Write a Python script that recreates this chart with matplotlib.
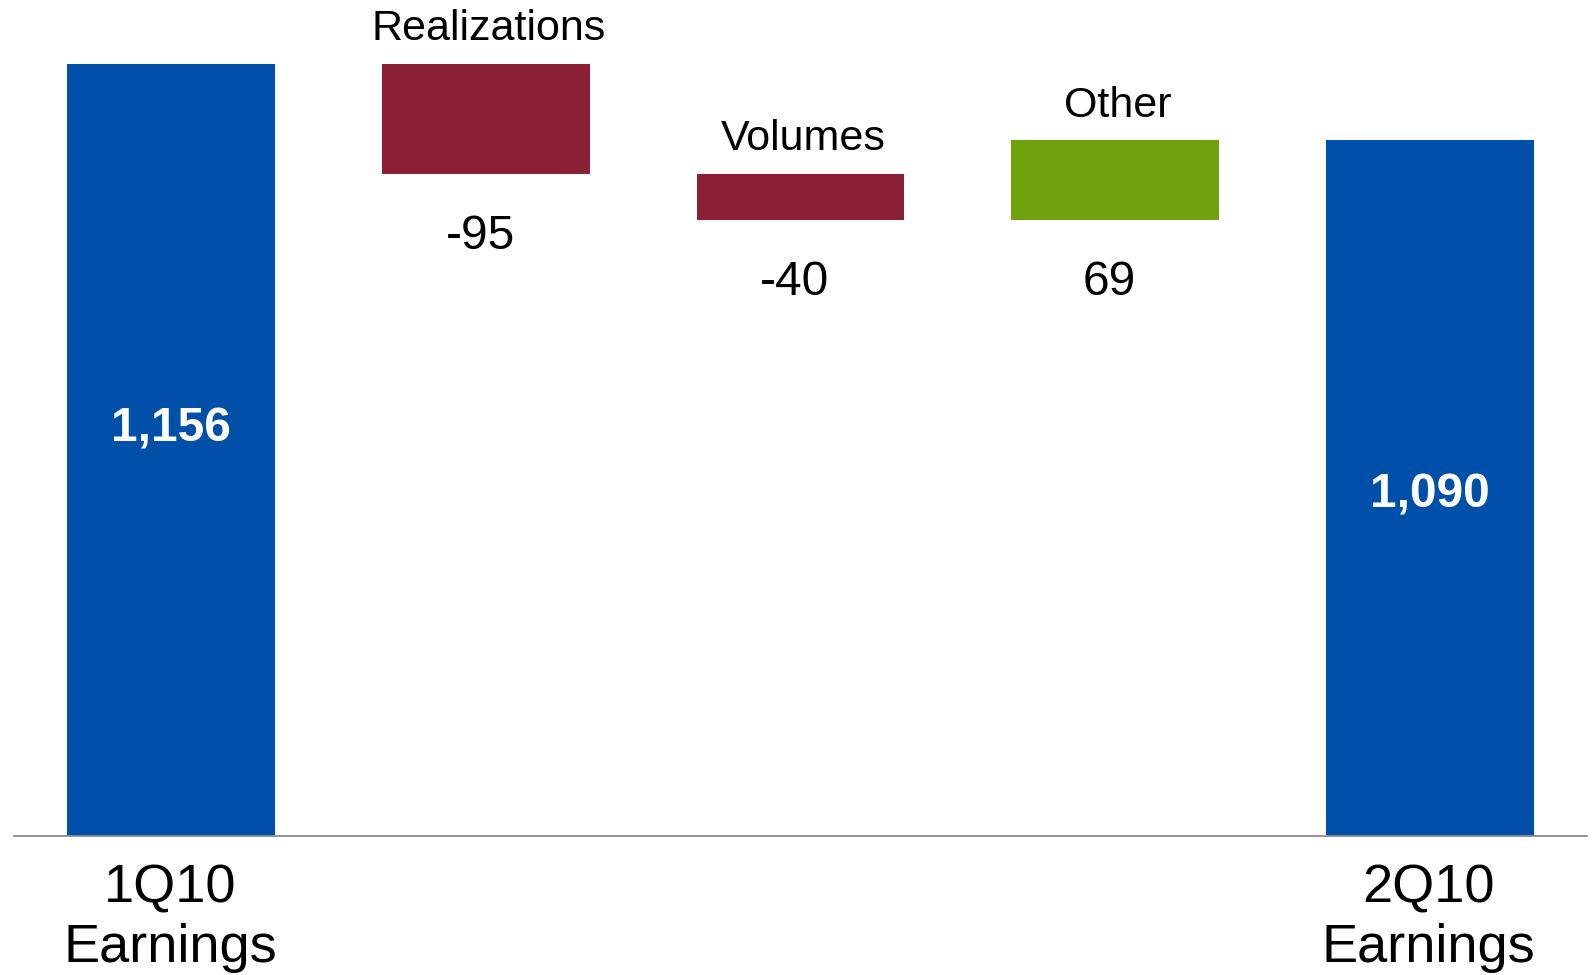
import matplotlib
matplotlib.use("Agg")
import matplotlib.pyplot as plt
from matplotlib.transforms import blended_transform_factory

plt.rcParams['font.family'] = ['Liberation Sans', 'DejaVu Sans']

categories = ["1Q10\nEarnings", "Realizations", "Volumes", "Other", "2Q10\nEarnings"]
start_total = 1156
changes = [-95, -40, 69]
end_total = 1090
total_labels = ["1,156", "1,090"]
change_labels = ["-95", "-40", "69"]

BLUE = "#0050A9"
RED = "#8B2035"
GREEN = "#6FA20C"

y_min, y_max = 490, 1211

fig = plt.figure(figsize=(15.93, 9.75), dpi=100)
ax = fig.add_axes([14 / 1593, (975 - 836) / 975, 1573 / 1593, 836 / 975])
ax.set_xlim(-0.5, 4.5)
ax.set_ylim(y_min, y_max)
for s in ["top", "right", "left"]:
    ax.spines[s].set_visible(False)
ax.spines["bottom"].set_color("#8C8C8C")
ax.spines["bottom"].set_linewidth(1.3)
ax.spines["bottom"].set_position(("data", y_min))
ax.set_yticks([])
ax.set_xticks([])

width = 0.66
# totals
ax.bar(0, start_total, width=width, color=BLUE, zorder=2)
ax.bar(4, end_total, width=width, color=BLUE, zorder=2)

running = start_total
for i, ch in enumerate(changes):
    x = i + 1
    lo = min(running, running + ch)
    hi = max(running, running + ch)
    ax.annotate(categories[x], (x, hi), xytext=(2, 17), textcoords="offset points",
                ha="center", va="baseline", fontsize=31, color="black")
    ax.bar(x, hi - lo, bottom=lo, width=width, color=(RED if ch < 0 else GREEN), zorder=2)
    ax.annotate(change_labels[i], (x, lo), xytext=(-4, -54), textcoords="offset points",
                ha="center", va="baseline", fontsize=34.5, color="black")
    running += ch

# total labels
for x, val, lab, off in [(0, start_total, total_labels[0], 15), (4, end_total, total_labels[1], -5)]:
    ax.annotate(lab, (x, (y_min + val) / 2), xytext=(0, off), textcoords="offset points",
                ha="center", va="center", fontsize=34.5, fontweight="bold", color="white")

trans = blended_transform_factory(ax.transData, ax.transAxes)
for x in (0, 4):
    ax.annotate(categories[x], (x, 0), xycoords=trans, xytext=(-1, -20), textcoords="offset points",
                ha="center", va="top", fontsize=39, color="black", linespacing=1.23,
                annotation_clip=False)

fig.savefig("out.png", dpi=100)
